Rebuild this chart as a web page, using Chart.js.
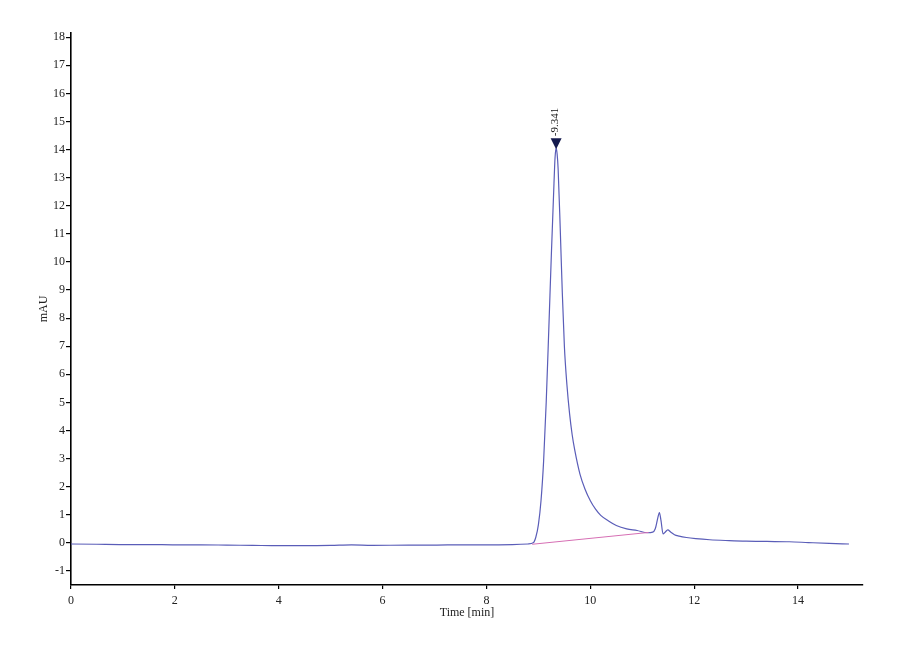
<!DOCTYPE html>
<html>
<head>
<meta charset="utf-8">
<script src="https://cdn.jsdelivr.net/npm/chart.js@4.4.1/dist/chart.umd.min.js"></script>
<style>
  html, body { margin: 0; padding: 0; background: #ffffff; }
  #wrap { width: 900px; height: 660px; }
</style>
</head>
<body>
<div id="wrap"><canvas id="c" width="900" height="660"></canvas></div>
<script>
// ---- data ----
const times = [0, 0.5, 1, 1.5, 2, 2.5, 3, 3.5, 4, 4.5, 5, 5.4, 5.8, 6.5, 7, 7.5, 8, 8.5, 8.8,
  8.9, 8.95, 9.0, 9.05, 9.1, 9.15, 9.2, 9.25, 9.3, 9.32, 9.341, 9.36, 9.38, 9.42, 9.46, 9.5, 9.55, 9.6,
  9.65, 9.7, 9.8, 9.9, 10.0, 10.1, 10.2, 10.35, 10.5, 10.7, 10.9, 11.1, 11.2, 11.25, 11.3,
  11.33, 11.36, 11.4, 11.44, 11.49, 11.55, 11.62, 11.71, 11.85, 12.03, 12.3, 12.67, 13.0,
  13.4, 13.83, 14.2, 14.6, 14.98];
const signal = [-0.04, -0.05, -0.06, -0.06, -0.07, -0.07, -0.08, -0.09, -0.10, -0.10, -0.09,
  -0.07, -0.09, -0.08, -0.08, -0.07, -0.07, -0.06, -0.04,
  0.0, 0.2, 0.65, 1.5, 2.9, 5.0, 7.6, 10.3, 12.8, 13.7, 14.05, 13.85, 13.3, 11.2, 8.9, 7.0, 5.6, 4.6,
  3.85, 3.3, 2.45, 1.9, 1.5, 1.2, 0.98, 0.78, 0.62, 0.5, 0.44, 0.36, 0.38, 0.5, 0.9,
  1.08, 0.8, 0.32, 0.38, 0.46, 0.38, 0.29, 0.24, 0.19, 0.15, 0.11, 0.08, 0.06,
  0.05, 0.04, 0.01, -0.02, -0.04];
const baselineTimes = [8.88, 11.12];
const baselineValues = [-0.05, 0.37];
const peakTime = 9.341;
const peakValue = 14.05;
const peakLabel = "-9.341";
const xTicks = [0, 2, 4, 6, 8, 10, 12, 14];
const yTicks = [-1, 0, 1, 2, 3, 4, 5, 6, 7, 8, 9, 10, 11, 12, 13, 14, 15, 16, 17, 18];

const traceData = times.map((t, i) => ({ x: t, y: signal[i] }));
const baseData = baselineTimes.map((t, i) => ({ x: t, y: baselineValues[i] }));

const serif = "'Liberation Serif', 'DejaVu Serif', serif";

const peakMarker = {
  id: 'peakMarker',
  afterDatasetsDraw(chart) {
    const ctx = chart.ctx;
    const xs = chart.scales.x, ys = chart.scales.y;
    const px = xs.getPixelForValue(peakTime);
    const py = ys.getPixelForValue(peakValue) + 1;
    ctx.save();
    ctx.fillStyle = '#141a4e';
    ctx.beginPath();
    ctx.moveTo(px, py);
    ctx.lineTo(px - 5.5, py - 11);
    ctx.lineTo(px + 5.5, py - 11);
    ctx.closePath();
    ctx.fill();
    ctx.translate(px - 1, py - 13);
    ctx.rotate(-Math.PI / 2);
    ctx.font = "11px " + serif;
    ctx.fillStyle = '#111';
    ctx.textAlign = 'left';
    ctx.textBaseline = 'middle';
    ctx.fillText(peakLabel, 0, 0);
    ctx.restore();
  }
};

new Chart(document.getElementById('c'), {
  type: 'line',
  data: {
    datasets: [
      {
        data: baseData,
        borderColor: '#d66fb4',
        borderWidth: 1,
        pointRadius: 0,
        fill: false
      },
      {
        data: traceData,
        borderColor: '#5a5db8',
        borderWidth: 1.2,
        pointRadius: 0,
        fill: false,
        cubicInterpolationMode: 'monotone'
      }
    ]
  },
  options: {
    responsive: false,
    animation: false,
    layout: { padding: { left: 0, top: 33, right: 37, bottom: 0 } },
    plugins: {
      legend: { display: false },
      tooltip: { enabled: false }
    },
    scales: {
      x: {
        type: 'linear',
        min: 0,
        max: 15.25,
        afterBuildTicks: (s) => { s.ticks = xTicks.map(v => ({ value: v })); },
        afterFit: (s) => { s.height = 660 - 585; },
        border: { display: true, color: '#000', width: 1.6 },
        grid: { drawOnChartArea: false, drawTicks: true, tickLength: 4, color: '#000', lineWidth: 1.2 },
        ticks: { color: '#222', font: { family: serif, size: 12 }, padding: 5, maxRotation: 0 },
        title: {
          display: true, text: 'Time [min]', color: '#222',
          font: { family: serif, size: 12 }, padding: { top: 0, bottom: 40 }
        }
      },
      y: {
        type: 'linear',
        min: -1.5,
        max: 18.15,
        afterBuildTicks: (s) => { s.ticks = yTicks.map(v => ({ value: v })); },
        afterFit: (s) => { s.width = 71; },
        border: { display: true, color: '#000', width: 1.6 },
        grid: { drawOnChartArea: false, drawTicks: true, tickLength: 5, color: '#000', lineWidth: 1.2 },
        ticks: { color: '#222', font: { family: serif, size: 12 }, padding: 1 },
        title: {
          display: true, text: 'mAU', color: '#222',
          font: { family: serif, size: 12 }, padding: { top: 37, bottom: 0 }
        }
      }
    }
  },
  plugins: [peakMarker]
});
</script>
</body>
</html>
